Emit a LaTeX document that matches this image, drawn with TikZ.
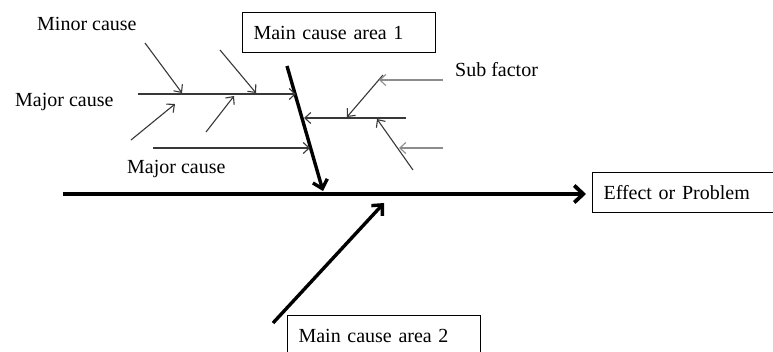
\documentclass[tikz,border=0pt]{standalone}
\usepackage{fontspec}
\setmainfont{Liberation Serif}
\usetikzlibrary{arrows.meta}
\begin{document}
\begin{tikzpicture}[x=1pt,y=-1pt,
  labeltext/.style={font=\fontsize{20}{24}\selectfont, inner sep=0pt, anchor=base west},
  causebox/.style={draw, line width=1.1pt, font=\fontsize{20}{24}\selectfont,
    anchor=north west, minimum height=40pt, inner xsep=11pt, inner ysep=0pt,
    text height=13.5pt, text depth=0pt, align=left},
  bone/.style={line width=3.4pt, -{Straight Barb[length=8pt,width=15pt]}},
  twig/.style={draw=black!78, line width=1.1pt, -{Straight Barb[length=6pt,width=11pt]}},
  subtwig/.style={draw=black!45, line width=1.1pt, -{Straight Barb[length=6pt,width=11pt]}}
]
\useasboundingbox (0,0) rectangle (773,351);
\clip (0,0) rectangle (773,351);

% boxes
\node[causebox, text width=171pt] (area1) at (242,12) {Main cause area 1};
\node[causebox, text width=171pt] (area2) at (287,315) {Main cause area 2};
\node[causebox, text width=200pt] (effect) at (592,172) {Effect or Problem};

% labels
\node[labeltext] (minor) at (37,30) {Minor cause};
\node[labeltext] (major1) at (15,106) {Major cause};
\node[labeltext] (major2) at (127,173) {Major cause};
\node[labeltext] (sub) at (455,76) {Sub factor};

% spine
\coordinate (tail) at (63,194);
\coordinate (head) at (586,194);
\draw[bone, line width=3.8pt, -{Straight Barb[length=9pt,width=17pt]}] (tail) -- (head);

% main bones
\coordinate (b1s) at (287,66);
\coordinate (b1e) at (323,191);
\coordinate (b2s) at (273,323);
\coordinate (b2e) at (384,203);
\draw[bone] (b1s) -- (b1e);
\draw[bone] (b2s) -- (b2e);

% upper major cause with its minor causes
\coordinate (m1s) at (138,94);
\coordinate (m1e) at (296,94);
\draw[twig] (m1s) -- (m1e);
\coordinate (n1s) at (145,43);
\coordinate (n1e) at (182,93);
\coordinate (n2s) at (220,50);
\coordinate (n2e) at (256,93);
\coordinate (n3s) at (131,140);
\coordinate (n3e) at (175,104);
\coordinate (n4s) at (206,132);
\coordinate (n4e) at (234,96);
\draw[twig] (n1s) -- (n1e);
\draw[twig] (n2s) -- (n2e);
\draw[twig] (n3s) -- (n3e);
\draw[twig] (n4s) -- (n4e);

% lower major cause
\coordinate (m2s) at (153,148);
\coordinate (m2e) at (310,148);
\draw[twig] (m2s) -- (m2e);

% right-hand cause with sub factors
\coordinate (r1s) at (406,118);
\coordinate (r1e) at (304,118);
\draw[twig] (r1s) -- (r1e);
\coordinate (d1s) at (383,75);
\coordinate (d1e) at (347,117);
\coordinate (d2s) at (413,170);
\coordinate (d2e) at (377,119);
\draw[twig] (d1s) -- (d1e);
\draw[twig] (d2s) -- (d2e);
\coordinate (g1s) at (443,80);
\coordinate (g1e) at (379,80);
\coordinate (g2s) at (443,148);
\coordinate (g2e) at (399,148);
\draw[subtwig] (g1s) -- (g1e);
\draw[subtwig] (g2s) -- (g2e);
\end{tikzpicture}
\end{document}
